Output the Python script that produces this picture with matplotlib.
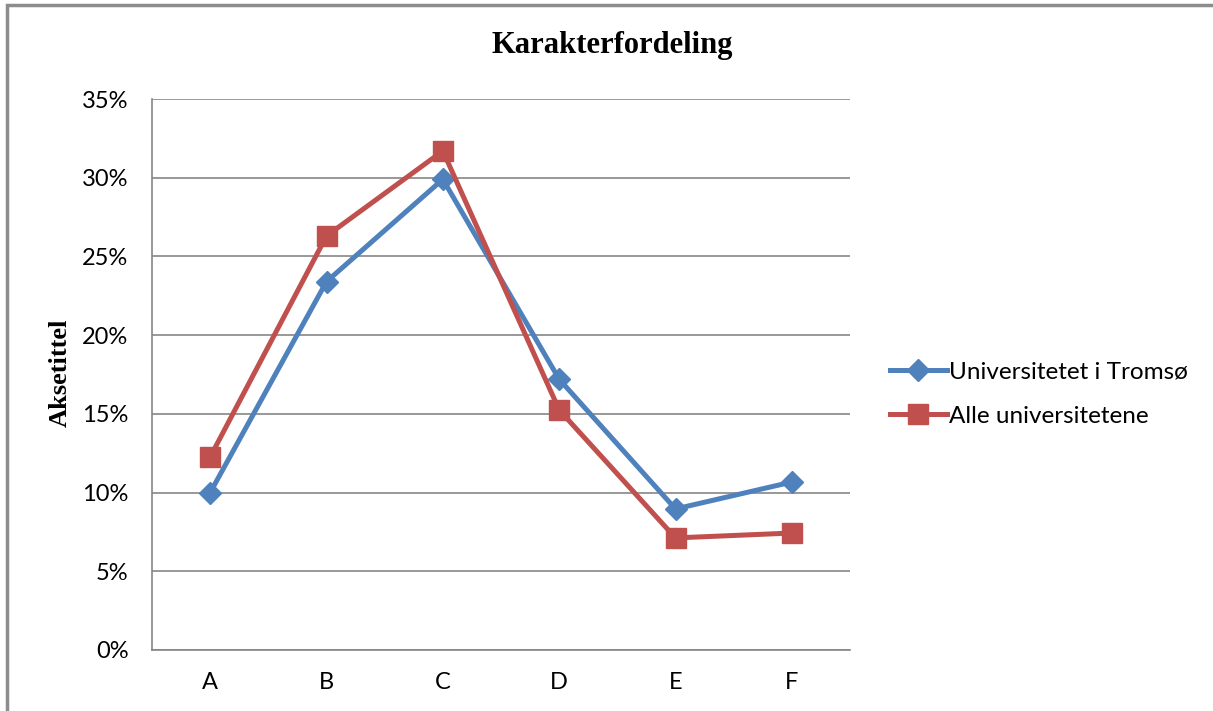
import matplotlib
matplotlib.use("Agg")
import matplotlib.pyplot as plt
from matplotlib.ticker import FuncFormatter, MultipleLocator
from matplotlib.lines import Line2D
from matplotlib.patches import Rectangle

categories = ["A", "B", "C", "D", "E", "F"]
tromso = [10.0, 23.4, 29.9, 17.2, 8.96, 10.67]
alle = [12.26, 26.3, 31.7, 15.25, 7.12, 7.43]
series_names = ["Universitetet i Tromsø", "Alle universitetene"]
title = "Karakterfordeling"
ylabel = "Aksetittel"

blue = "#4F81BD"
red = "#C0504D"
grid_c = "#868686"
sans = ["Lato", "DejaVu Sans"]
serif = ["Liberation Serif", "DejaVu Serif"]

fig = plt.figure(figsize=(12.13, 7.11), dpi=100)
ax = fig.add_axes([152/1213, 61/711, 698/1213, 551/711])

x = list(range(len(categories)))
ax.plot(x, tromso, color=blue, lw=3.6, marker="D", ms=11, mec=blue, mfc=blue, zorder=3, label=series_names[0])
ax.plot(x, alle, color=red, lw=3.6, marker="s", ms=14, mec=red, mfc=red, zorder=3, label=series_names[1])

ax.set_xlim(-0.5, len(categories) - 0.5)
ax.set_ylim(0, 35)
ax.yaxis.set_major_locator(MultipleLocator(5))
ax.yaxis.set_major_formatter(FuncFormatter(lambda v, p: f"{v:.0f}%"))
ax.set_xticks(x)
ax.set_xticklabels(categories)
ax.grid(axis="y", color=grid_c, lw=1.2)
ax.set_axisbelow(True)
for s in ["top", "right"]:
    ax.spines[s].set_visible(False)
for s in ["left", "bottom"]:
    ax.spines[s].set_color(grid_c)
    ax.spines[s].set_linewidth(1.2)
ax.tick_params(length=0, labelsize=17)
for lab in ax.get_xticklabels() + ax.get_yticklabels():
    lab.set_fontfamily(sans)
ax.tick_params(axis="x", pad=16)
ax.tick_params(axis="y", pad=17)

fig.text(612/1213, 1 - 45/711, title, ha="center", va="center", fontsize=22,
         fontweight="bold", family=serif)
fig.text(60/1213, 1 - 373/711, ylabel, ha="center", va="center", rotation=90,
         fontsize=19, fontweight="bold", family=serif)

leg = fig.legend(handles=[
    Line2D([], [], color=blue, lw=3.6, marker="D", ms=11),
    Line2D([], [], color=red, lw=3.6, marker="s", ms=14)],
    labels=series_names, loc="center left", bbox_to_anchor=(880/1213, 1 - 394/711),
    frameon=False, prop={"family": sans, "size": 17.5}, handlelength=2.35,
    handletextpad=0.1, labelspacing=0.95, borderaxespad=0)

fig.add_artist(Rectangle((7/1213, -0.1), 1.2, 1 - 5/711 + 0.1, transform=fig.transFigure,
                         fill=False, edgecolor="#8c8c8c", lw=2.5))

fig.savefig("out.png", dpi=100)
